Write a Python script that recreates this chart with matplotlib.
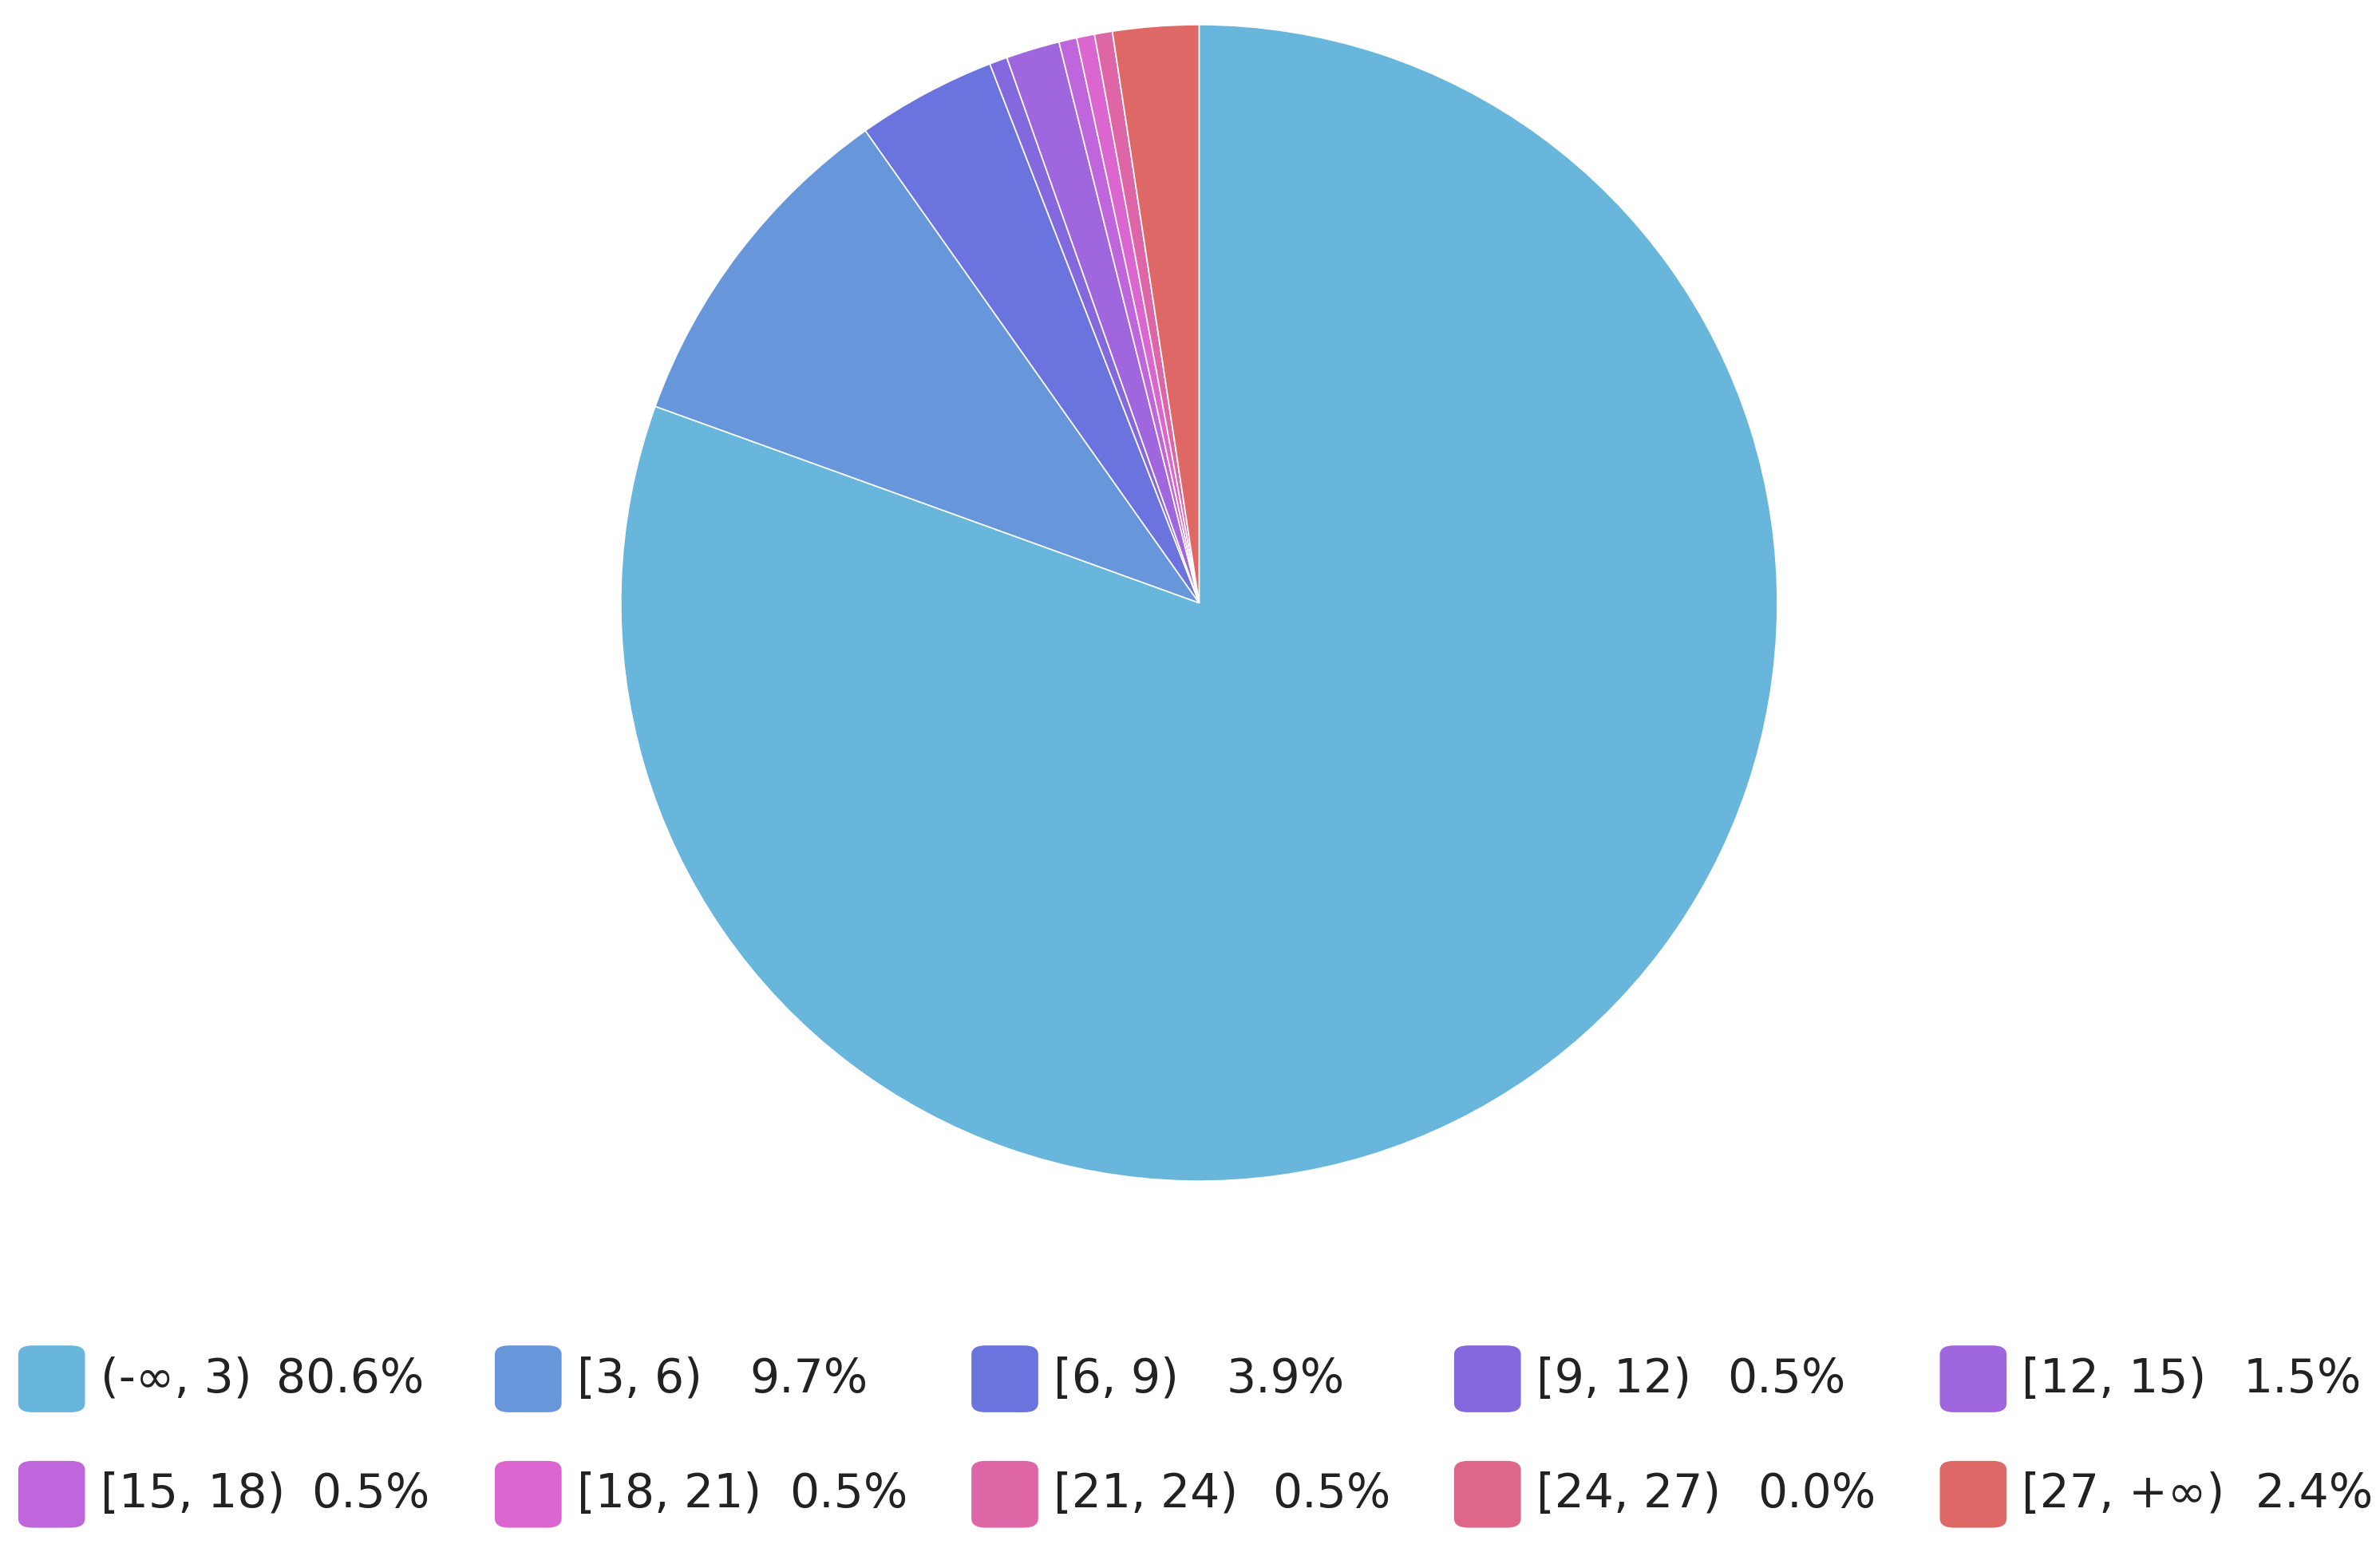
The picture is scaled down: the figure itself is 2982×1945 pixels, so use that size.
import matplotlib.pyplot as plt
from matplotlib.patches import FancyBboxPatch

# dados do grafico
labels = ['(-∞, 3)', '[3, 6)', '[6, 9)', '[9, 12)', '[12, 15)',
          '[15, 18)', '[18, 21)', '[21, 24)', '[24, 27)', '[27, +∞)']
percents = [80.6, 9.7, 3.9, 0.5, 1.5, 0.5, 0.5, 0.5, 0.0, 2.4]
colors = ['#68b6dc', '#6797da', '#6a73de', '#8468de', '#a066de',
          '#c066dc', '#dc66d0', '#de66a6', '#de6688', '#de6865']

W, H = 1568, 1022
fig = plt.figure(figsize=(14.91, 9.725), dpi=200)

cx, cy, r = 790, 397, 381
ax = fig.add_axes([(cx - r) / W, 1 - (cy + r) / H, 2 * r / W, 2 * r / H])
ax.pie(percents, colors=colors, startangle=90, counterclock=False,
       wedgeprops=dict(linewidth=0.6, edgecolor='white'), radius=1)
ax.set_xlim(-1, 1)
ax.set_ylim(-1, 1)
ax.axis('off')

# legenda desenhada a mao
box_x = [12, 326, 640, 958, 1278]
pct_x = [[182, 494, 808, 1138, 1478], [205, 520, 838, 1158, 1486]]
row_y = [908, 984]
bw, bh = 44, 44
for i, (lab, p, c) in enumerate(zip(labels, percents, colors)):
    row, col = divmod(i, 5)
    x0 = box_x[col]
    yc = row_y[row]
    fig.add_artist(FancyBboxPatch((x0 / W, 1 - (yc + bh / 2) / H), bw / W, bh / H,
                                  boxstyle='round,pad=0,rounding_size=0.006',
                                  transform=fig.transFigure, facecolor=c,
                                  edgecolor='none'))
    fig.text((x0 + bw + 10) / W, 1 - yc / H, lab, fontsize=21, va='center',
             ha='left', color='#222222')
    fig.text(pct_x[row][col] / W, 1 - yc / H, f'{p:.1f}%', fontsize=21,
             va='center', ha='left', color='#222222')

fig.savefig('out.png', dpi=200, facecolor='white')
